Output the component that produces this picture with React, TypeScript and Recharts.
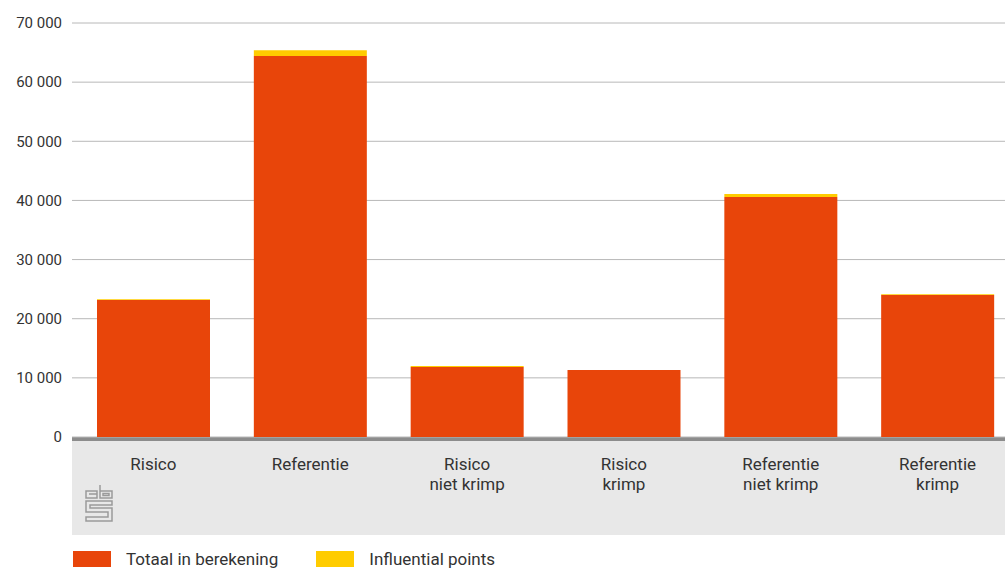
import React from "react";
import { Bar, BarChart, CartesianGrid, XAxis, YAxis } from "recharts";

const categories = ["Risico", "Referentie", "Risico\nniet krimp", "Risico\nkrimp", "Referentie\nniet krimp", "Referentie\nkrimp"];
const totaal = [23150, 64400, 11850, 11330, 40600, 24000];
const influential = [150, 1000, 150, 0, 500, 150];
const yTicks = [0, 10000, 20000, 30000, 40000, 50000, 60000, 70000];

const series = [
  { key: "totaal", name: "Totaal in berekening", color: "#e8450a" },
  { key: "influential", name: "Influential points", color: "#ffcc00" },
];

const data = categories.map((c, i) => ({ name: c, totaal: totaal[i], influential: influential[i] }));

const FONT = "Roboto, 'Noto Sans', sans-serif";
const TEXT = "#333333";

const fmt = (v: number) => String(v).replace(/\B(?=(\d{3})+(?!\d))/g, " ");

function CategoryTick({ x, y, payload }: any) {
  const lines = String(payload.value).split("\n");
  return (
    <text x={x} y={y + 25} textAnchor="middle" fill={TEXT} fontSize={17} fontFamily={FONT}>
      {lines.map((l, i) => (
        <tspan key={i} x={x} dy={i === 0 ? 0 : 20}>
          {l}
        </tspan>
      ))}
    </text>
  );
}

function CbsLogo() {
  return (
    <svg width={30} height={40} viewBox="0 0 30 40" style={{ position: "absolute", left: 84, top: 483 }}>
      <g fill="none" stroke="#9a9a9a" strokeWidth={1.5}>
        <path d="M2 8 H13 V15 H2 Z" />
        <path d="M5 11 H13" />
        <path d="M16 2 V15 H28 V8 H16" />
        <rect x={19} y={10.5} width={6} height={2} />
        <path d="M2 18 H28 V22 H6 V25 H28 V38 H2 V34 H24 V29 H2 Z" />
      </g>
    </svg>
  );
}

export default function App() {
  return (
    <div style={{ position: "absolute", left: 0, top: 0, width: 1005, height: 570, overflow: "hidden", fontFamily: FONT }}>
      <div
        style={{
          position: "absolute",
          left: 72,
          top: 437,
          width: 933,
          height: 94,
          background: "#e8e8e8",
          borderTop: "4px solid #8c8c8c",
        }}
      />
      <div style={{ position: "absolute", left: 0, top: 0 }}>
        <BarChart width={1016} height={536} data={data} margin={{ top: 23, right: 0, bottom: 0, left: 0 }}>
          <CartesianGrid vertical={false} stroke="#b8b8b8" />
          <XAxis
            dataKey="name"
            height={99}
            axisLine={false}
            tickLine={false}
            interval={0}
            padding={{ left: 3, right: 0 }}
            tick={<CategoryTick />}
          />
          <YAxis
            width={72}
            domain={[0, 70000]}
            ticks={yTicks}
            axisLine={false}
            tickLine={false}
            tickMargin={4}
            tickFormatter={fmt}
            tick={{ fill: TEXT, fontSize: 15, fontFamily: FONT }}
          />
          {series.map((s) => (
            <Bar key={s.key} dataKey={s.key} name={s.name} stackId="a" fill={s.color} barSize={113} isAnimationActive={false} />
          ))}
        </BarChart>
      </div>
      <CbsLogo />
      <div style={{ position: "absolute", left: 73, top: 549, display: "flex", alignItems: "center" }}>
        {series.map((s, i) => (
          <div key={s.key} style={{ display: "flex", alignItems: "center", marginRight: i === 0 ? 38 : 0 }}>
            <div style={{ width: 38, height: 16, background: s.color, marginRight: 15 }} />
            <span style={{ fontSize: 17, color: TEXT }}>{s.name}</span>
          </div>
        ))}
      </div>
    </div>
  );
}
